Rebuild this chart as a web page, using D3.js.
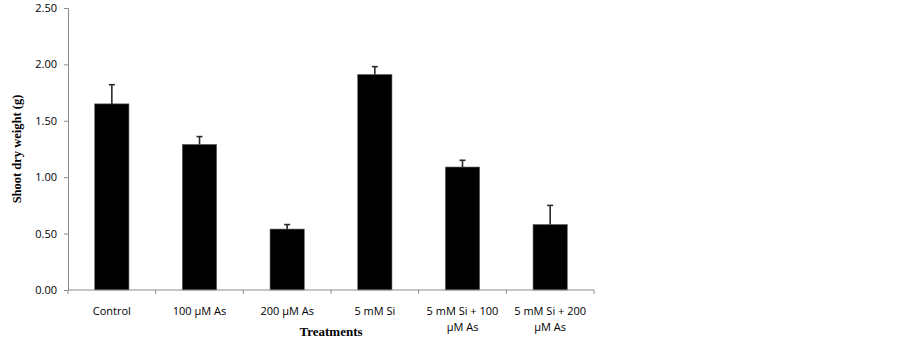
<!doctype html>
<html>
  <head>
    <meta charset="utf-8">
    <title>Shoot dry weight</title>
    <script src="https://d3js.org/d3.v7.min.js"></script>
    <style>
      body { margin: 0; background: #fff; }
    </style>
  </head>
  <body>
    <script>
      const treatments = ['Control', '100 µM As', '200 µM As', '5 mM Si', '5 mM Si + 100 µM As', '5 mM Si + 200 µM As'];
      const labelLines = [['Control'], ['100 µM As'], ['200 µM As'], ['5 mM Si'], ['5 mM Si + 100', 'µM As'], ['5 mM Si + 200', 'µM As']];
      const weights = [1.65, 1.29, 0.54, 1.91, 1.09, 0.58];
      const errors = [0.17, 0.07, 0.04, 0.07, 0.06, 0.17];
      const yTicks = [0, 0.5, 1, 1.5, 2, 2.5];

      const width = 903, height = 345;
      const margin = { top: 8, right: 309, bottom: 55, left: 68 };

      const svg = d3.select('body').append('svg')
          .attr('width', width)
          .attr('height', height);

      const x = d3.scaleBand()
          .domain(treatments)
          .range([margin.left, width - margin.right])
          .paddingInner(0.61)
          .paddingOuter(0.305);

      const y = d3.scaleLinear()
          .domain([0, 2.5])
          .range([height - margin.bottom, margin.top]);

      // y axis
      const yAxis = svg.append('g')
          .attr('transform', `translate(${margin.left},0)`)
          .call(d3.axisLeft(y).tickValues(yTicks).tickFormat(d3.format('.2f')).tickSize(4).tickPadding(7));
      yAxis.select('.domain').attr('stroke', '#8c8c8c');
      yAxis.selectAll('.tick line').attr('stroke', '#8c8c8c');
      yAxis.selectAll('text')
          .attr('font-family', 'Open Sans, sans-serif')
          .attr('font-size', 11)
          .attr('fill', '#000');

      // bars
      svg.append('g')
        .selectAll('rect')
        .data(weights)
        .join('rect')
          .attr('x', (d, i) => x(treatments[i]))
          .attr('y', d => y(d))
          .attr('width', x.bandwidth())
          .attr('height', d => y(0) - y(d))
          .attr('fill', '#000')
          .attr('stroke', '#555')
          .attr('stroke-width', 0.6);

      // error bars (upper only)
      const err = svg.append('g')
        .selectAll('g')
        .data(weights)
        .join('g')
          .attr('stroke', '#2b2b2b')
          .attr('stroke-width', 1.6);
      err.append('line')
          .attr('x1', (d, i) => x(treatments[i]) + x.bandwidth() / 2)
          .attr('x2', (d, i) => x(treatments[i]) + x.bandwidth() / 2)
          .attr('y1', d => y(d))
          .attr('y2', (d, i) => y(d + errors[i]));
      err.append('line')
          .attr('x1', (d, i) => x(treatments[i]) + x.bandwidth() / 2 - 3)
          .attr('x2', (d, i) => x(treatments[i]) + x.bandwidth() / 2 + 3)
          .attr('y1', (d, i) => y(d + errors[i]))
          .attr('y2', (d, i) => y(d + errors[i]));

      // x axis
      const x0 = y(0);
      const gx = svg.append('g');
      gx.append('line')
          .attr('x1', margin.left)
          .attr('x2', width - margin.right)
          .attr('y1', x0)
          .attr('y2', x0)
          .attr('stroke', '#8c8c8c');
      gx.selectAll('.tk')
        .data(d3.range(treatments.length + 1))
        .join('line')
          .attr('class', 'tk')
          .attr('x1', i => margin.left + i * x.step())
          .attr('x2', i => margin.left + i * x.step())
          .attr('y1', x0)
          .attr('y2', x0 + 4)
          .attr('stroke', '#8c8c8c');
      gx.selectAll('text')
        .data(labelLines)
        .join('text')
          .attr('x', (d, i) => x(treatments[i]) + x.bandwidth() / 2)
          .attr('y', x0 + 25)
          .attr('text-anchor', 'middle')
          .attr('font-family', 'Open Sans, sans-serif')
          .attr('font-size', 11)
          .attr('fill', '#000')
        .selectAll('tspan')
        .data(d => d)
        .join('tspan')
          .attr('x', function () { return this.parentNode.getAttribute('x'); })
          .attr('dy', (d, i) => i === 0 ? 0 : 16)
          .text(d => d);

      // axis titles
      svg.append('text')
          .attr('x', (margin.left + width - margin.right) / 2)
          .attr('y', 336)
          .attr('text-anchor', 'middle')
          .attr('font-family', 'Liberation Serif, serif')
          .attr('font-weight', 'bold')
          .attr('font-size', 13)
          .text('Treatments');

      svg.append('text')
          .attr('transform', `translate(21,${(y(0) + y(2.5)) / 2}) rotate(-90)`)
          .attr('text-anchor', 'middle')
          .attr('font-family', 'Liberation Serif, serif')
          .attr('font-weight', 'bold')
          .attr('font-size', 12.5)
          .text('Shoot dry weight (g)');
    </script>
  </body>
</html>
